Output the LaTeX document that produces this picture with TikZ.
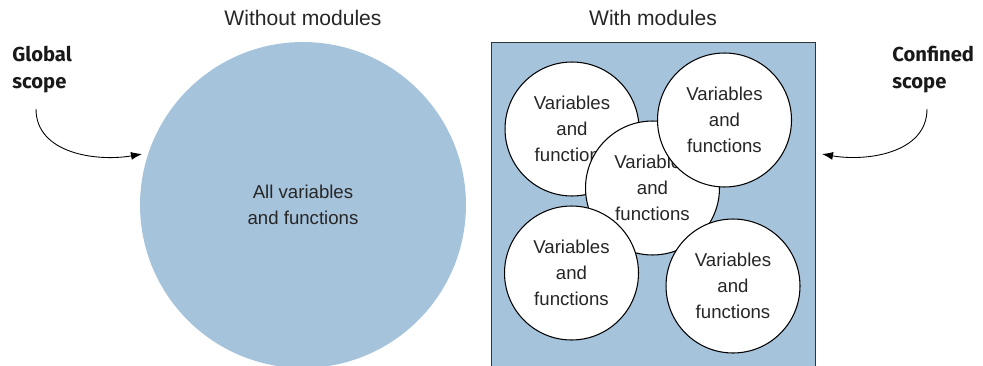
\documentclass[tikz,border=0pt]{standalone}
\usepackage{fontspec}
\setmainfont{Liberation Sans}
\newfontfamily\calloutfont{Fira Sans}
\usetikzlibrary{arrows.meta,positioning}
\definecolor{scopeblue}{RGB}{166,195,220}
\tikzset{%
  >={Latex[width=1.6mm,length=2.2mm]},
  % Specifications for style of nodes:
        base/.style = {circle, inner sep=0pt, align=center, text=black!85,
                       font=\fontsize{10.6}{14.9}\selectfont},
      global/.style = {base, fill=scopeblue, minimum size=6.52cm},
      module/.style = {base, draw=black, fill=white, line width=0.6pt,
                       minimum size=2.68cm},
    modulebox/.style = {rectangle, draw=black!80, fill=scopeblue, inner sep=0pt,
                       minimum width=6.48cm, minimum height=6.5cm},
     heading/.style = {text=black!85, font=\fontsize{12}{14}\selectfont},
     callout/.style = {anchor=north west, align=left, inner sep=0pt, text=black!90,
                       font=\calloutfont\bfseries\fontsize{11.5}{15.5}\selectfont},
}

\begin{document}
\begin{tikzpicture}[x=0.02cm, y=-0.02cm]
\useasboundingbox (0,0) rectangle (983,365);

\node (without) [heading] at (303,18) {Without modules};
\node (with)    [heading] at (653,18) {With modules};

\node (all) [global] at (303,205) {All variables\\and functions};

\node (box) [modulebox] at (653,204.5) {};

\node (modA) [module] at (572,129) {Variables\\and\\functions};
\node (modC) [module] at (652.5,188) {Variables\\and\\functions};
\node (modB) [module] at (724.5,120) {Variables\\and\\functions};
\node (modD) [module] at (571.5,273) {Variables\\and\\functions};
\node (modE) [module] at (733,286) {Variables\\and\\functions};

\node (gscope) [callout] at (12,46) {Global\\scope};
\node (cscope) [callout] at (892,46) {Confined\\scope};

\coordinate (gfrom) at (36,109);
\coordinate (gtip)  at (142,154);
\coordinate (cfrom) at (927,109);
\coordinate (ctip)  at (822,154);

\draw[->, line width=0.5pt] (gfrom) to[out=-90, in=190] (gtip);
\draw[->, line width=0.5pt] (cfrom) to[out=-90, in=-10] (ctip);
  \end{tikzpicture}
\end{document}
